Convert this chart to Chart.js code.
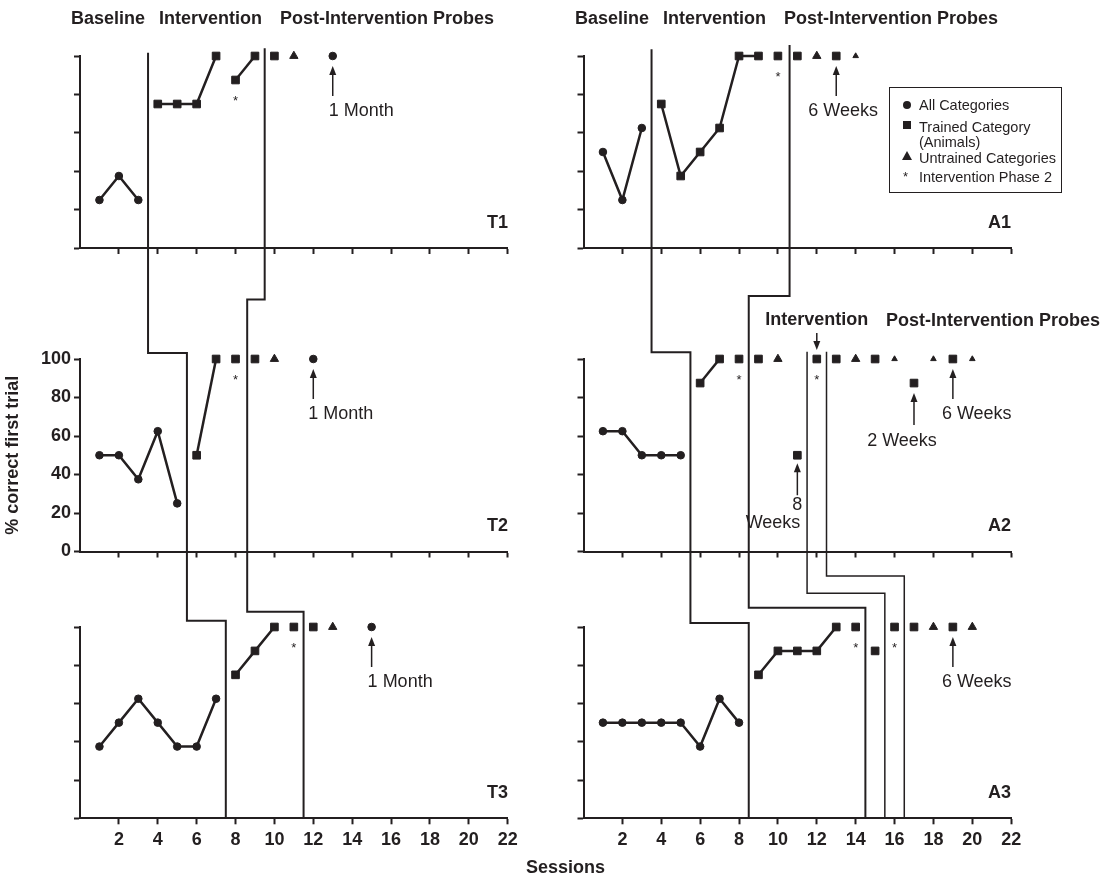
<!DOCTYPE html>
<html>
<head>
<meta charset="utf-8">
<title>Multiple baseline probes</title>
<script src="https://cdn.jsdelivr.net/npm/chart.js@4.4.1/dist/chart.umd.min.js"></script>
<style>
  html, body { margin: 0; padding: 0; background: #fff; }
  #fig { position: relative; width: 1116px; height: 878px; overflow: hidden; background: #fff;
         font-family: "Liberation Sans", Arial, sans-serif; color: #231f20; }
  #fig canvas { position: absolute; top: 0; }
  .t { position: absolute; white-space: nowrap; font-weight: bold; font-size: 18px; line-height: 18px; }
  .panel { position: absolute; width: 60px; text-align: right; font-weight: bold; font-size: 18px; line-height: 18px; }
  #legend { position: absolute; left: 889px; top: 87px; width: 173px; height: 106px; box-sizing: border-box;
            border: 1px solid #231f20; font-size: 14.5px; line-height: 15px; }
  #legend .txt { position: absolute; left: 29px; white-space: nowrap; }
  #legend .sym { position: absolute; background: #231f20; }
</style>
</head>
<body>
<div id="fig">
  <canvas id="t1" width="558" height="878"></canvas>
  <canvas id="t2" width="558" height="878"></canvas>
  <canvas id="t3" width="558" height="878"></canvas>
  <canvas id="a1" width="558" height="878"></canvas>
  <canvas id="a2" width="558" height="878"></canvas>
  <canvas id="a3" width="558" height="878"></canvas>

  <!-- phase headings -->
  <div class="t" style="left:71px;top:9px">Baseline</div>
  <div class="t" style="left:159px;top:9px">Intervention</div>
  <div class="t" style="left:280px;top:9px">Post-Intervention Probes</div>
  <div class="t" style="left:575px;top:9px">Baseline</div>
  <div class="t" style="left:663px;top:9px">Intervention</div>
  <div class="t" style="left:784px;top:9px">Post-Intervention Probes</div>
  <div class="t" style="left:886px;top:311px">Post-Intervention Probes</div>
  <div class="t" style="left:526px;top:858px">Sessions</div>

  <!-- participant labels -->
  <div class="panel" style="left:448px;top:213px">T1</div>
  <div class="panel" style="left:448px;top:516px">T2</div>
  <div class="panel" style="left:448px;top:783px">T3</div>
  <div class="panel" style="left:951px;top:213px">A1</div>
  <div class="panel" style="left:951px;top:516px">A2</div>
  <div class="panel" style="left:951px;top:783px">A3</div>

  <div id="legend">
    <span class="sym" style="left:13px;top:13px;width:8px;height:8px;border-radius:50%"></span>
    <div class="txt" style="top:10px">All Categories</div>
    <span class="sym" style="left:13px;top:33px;width:8px;height:8px"></span>
    <div class="txt" style="top:32px">Trained Category</div>
    <div class="txt" style="top:47px">(Animals)</div>
    <span class="sym" style="left:12px;top:63px;width:0;height:0;background:none;border-left:5px solid transparent;border-right:5px solid transparent;border-bottom:9px solid #231f20"></span>
    <div class="txt" style="top:63px">Untrained Categories</div>
    <span class="sym" style="left:13px;top:82px;background:none;font-size:13px;line-height:13px">*</span>
    <div class="txt" style="top:82px">Intervention Phase 2</div>
  </div>
</div>

<script>
const INK = '#231f20';
const FONT = '"Liberation Sans", Arial, sans-serif';

// axis ticks
const SESSION_TICKS = [2, 4, 6, 8, 10, 12, 14, 16, 18, 20, 22];
const PERCENT_TICKS = [0, 20, 40, 60, 80, 100];

// [session, % correct]; null breaks the connecting line
const T1_ALL = [[1, 25], [2, 37.5], [3, 25], null, [13, 100]];
const T1_TRAINED = [[4, 75], [5, 75], [6, 75], [7, 100], null, [8, 87.5], [9, 100], null, [10, 100]];
const T1_UNTRAINED = [[11, 100]];
const T1_PHASE2 = [8];
const T1_NOTES = [[13, '1 Month']];

const T2_ALL = [[1, 50], [2, 50], [3, 37.5], [4, 62.5], [5, 25], null, [12, 100]];
const T2_TRAINED = [[6, 50], [7, 100], null, [8, 100], null, [9, 100]];
const T2_UNTRAINED = [[10, 100]];
const T2_PHASE2 = [8];
const T2_NOTES = [[12, '1 Month']];

const T3_ALL = [[1, 37.5], [2, 50], [3, 62.5], [4, 50], [5, 37.5], [6, 37.5], [7, 62.5], null, [15, 100]];
const T3_TRAINED = [[8, 75], [9, 87.5], [10, 100], null, [11, 100], null, [12, 100]];
const T3_UNTRAINED = [[13, 100]];
const T3_PHASE2 = [11];
const T3_NOTES = [[15, '1 Month']];

const A1_ALL = [[1, 50], [2, 25], [3, 62.5]];
const A1_TRAINED = [[4, 75], [5, 37.5], [6, 50], [7, 62.5], [8, 100], [9, 100], null, [10, 100], null, [11, 100], null, [13, 100]];
const A1_UNTRAINED = [[12, 100], [14, 100]];
const A1_PHASE2 = [10];
const A1_NOTES = [[13, '6 Weeks']];

const A2_ALL = [[1, 62.5], [2, 62.5], [3, 50], [4, 50], [5, 50]];
const A2_TRAINED = [[6, 87.5], [7, 100], null, [8, 100], null, [9, 100], null, [11, 50], null, [12, 100], null,
                    [13, 100], null, [15, 100], null, [17, 87.5], null, [19, 100]];
const A2_UNTRAINED = [[10, 100], [14, 100], [16, 100], [18, 100], [20, 100]];
const A2_PHASE2 = [8, 12];
const A2_NOTES = [[12, 'Intervention'], [11, '8\nWeeks'], [17, '2 Weeks'], [19, '6 Weeks']];

const A3_ALL = [[1, 50], [2, 50], [3, 50], [4, 50], [5, 50], [6, 37.5], [7, 62.5], [8, 50]];
const A3_TRAINED = [[9, 75], [10, 87.5], [11, 87.5], [12, 87.5], [13, 100], null, [14, 100], null, [15, 87.5], null,
                    [16, 100], null, [17, 100], null, [19, 100]];
const A3_UNTRAINED = [[18, 100], [20, 100]];
const A3_PHASE2 = [14, 16];
const A3_NOTES = [[19, '6 Weeks']];

// phase change lines: session where each line crosses rows 1..3
const LEFT_PHASE_X = [[3.5, 5.5, 7.5], [9.5, 8.6, 11.5]];
const RIGHT_PHASE_X = [[3.5, 5.5, 8.5], [10.6, 8.5, 14.5], [null, 11.5, 15.5], [null, 12.5, 16.5]];

// ---- layout / style ----
const COLS = {
  left: { canvasX: 0, x0: 80, x1: 507.7 },
  right: { canvasX: 558, x0: 583.5, x1: 1011.2 }
};
const ROWS = [{ top: 56, bottom: 248 }, { top: 359, bottom: 551.5 }, { top: 627, bottom: 818.3 }];
const CANVAS_W = 558, CANVAS_H = 878, X_AXIS_H = 36;
// % level where a phase line starts, and where it jogs sideways above rows 2 and 3
const PHASE_TOP = { left: [101.7, 104], right: [103.5, 105.7, 103.8, 103.8] };
const PHASE_STEP = {
  left: [[103.1, 103.3], [130.9, 108]],
  right: [[103.5, 102.1], [132.7, 110.1], [null, 117.7], [null, 126.6]]
};
const PHASE_WIDTH = { left: [2, 2], right: [2, 2, 1.5, 1.5] };
const SMALL_TRIANGLES = { a1: [14], a2: [16, 18, 20] };

const BELOW = { tip: 10, tail: 40, labelY: 55, font: `18px ${FONT}` };
const NOTE_LAYOUT = {
  t1: [{ ...BELOW, dx: -4, align: 'left' }],
  t2: [{ ...BELOW, dx: -5, align: 'left' }],
  t3: [{ ...BELOW, dx: -4, align: 'left' }],
  a1: [{ ...BELOW, dx: -28, align: 'left' }],
  a2: [
    { tip: -9, tail: -26, labelY: -39, dx: 0, align: 'center', font: `bold 18px ${FONT}` },
    { tip: 8, tail: 40, font: `18px ${FONT}`, lines: [{ y: 50, dx: 0, align: 'center' }, { y: 68, dx: 3, align: 'right' }] },
    { ...BELOW, tail: 42, labelY: 58, dx: -12, align: 'center' },
    { ...BELOW, dx: -11, align: 'left' }
  ],
  a3: [{ ...BELOW, dx: -11, align: 'left' }]
};

function runs(list) {
  const out = [[]];
  list.forEach(p => {
    if (p === null) out.push([]);
    else out[out.length - 1].push({ x: p[0], y: p[1] });
  });
  return out.filter(r => r.length);
}

function phaseLines(side, row) {
  const xs = side === 'left' ? LEFT_PHASE_X : RIGHT_PHASE_X;
  const lines = [];
  xs.forEach((line, i) => {
    const own = line[row];
    if (own == null) return;
    const width = PHASE_WIDTH[side][i];
    const up = row > 0 ? line[row - 1] : null;
    if (up == null) {
      lines.push({ width, pts: [{ x: own, y: PHASE_TOP[side][i] }, { x: own, y: 0 }] });
      return;
    }
    const box = ROWS[row], prev = ROWS[row - 1];
    const reach = 100 + (box.top - prev.bottom) / (box.bottom - box.top) * 100;
    const step = PHASE_STEP[side][i][row - 1];
    lines.push({ width, pts: [{ x: up, y: reach }, { x: up, y: step }, { x: own, y: step }, { x: own, y: 0 }] });
  });
  return lines;
}

const notesPlugin = {
  id: 'notes',
  afterDatasetsDraw(chart, args, opts) {
    const { ctx } = chart;
    const xs = chart.scales.x, ys = chart.scales.y;
    const valueAt = s => {
      const hit = opts.points.find(p => p && p[0] === s);
      return hit ? hit[1] : 100;
    };
    ctx.save();
    ctx.fillStyle = INK;
    ctx.strokeStyle = INK;

    // asterisks mark intervention phase 2 sessions
    ctx.font = `13px ${FONT}`;
    ctx.textAlign = 'center';
    ctx.textBaseline = 'alphabetic';
    opts.stars.forEach(s => {
      const px = xs.getPixelForValue(s), py = ys.getPixelForValue(valueAt(s));
      ctx.fillText('*', px, py + 25);
    });

    // arrows with follow-up labels
    opts.notes.forEach(([s, text], i) => {
      const lay = opts.layout[i];
      const px = xs.getPixelForValue(s), py = ys.getPixelForValue(valueAt(s));
      const dir = lay.tip < 0 ? -1 : 1;
      const tip = py + lay.tip, tail = py + lay.tail;
      ctx.lineWidth = 1.5;
      ctx.beginPath();
      ctx.moveTo(px, tail);
      ctx.lineTo(px, tip + dir * 6);
      ctx.stroke();
      ctx.beginPath();
      ctx.moveTo(px, tip);
      ctx.lineTo(px - 3.5, tip + dir * 9);
      ctx.lineTo(px + 3.5, tip + dir * 9);
      ctx.closePath();
      ctx.fill();

      ctx.font = lay.font;
      ctx.textBaseline = 'middle';
      const parts = text.split('\n');
      const lines = lay.lines || [{ y: lay.labelY, dx: lay.dx, align: lay.align }];
      parts.forEach((part, j) => {
        const l = lines[j];
        ctx.textAlign = l.align;
        ctx.fillText(part, px + l.dx, py + l.y);
      });
    });
    ctx.restore();
  }
};

function markers(data, style, radius, joined) {
  return {
    data,
    showLine: joined,
    clip: false,
    borderColor: INK,
    backgroundColor: INK,
    borderWidth: 2.5,
    pointStyle: style,
    pointRadius: radius,
    pointHoverRadius: radius,
    pointBorderWidth: 1,
    pointBackgroundColor: INK,
    pointBorderColor: INK
  };
}

function buildPanel(id, side, row, p) {
  const col = COLS[side], box = ROWS[row];
  const canvas = document.getElementById(id);
  canvas.style.left = col.canvasX + 'px';

  const datasets = [];
  runs(p.all).forEach(r => datasets.push(markers(r, 'circle', 3.8, true)));
  runs(p.trained).forEach(r => datasets.push(markers(r, 'rect', 5.4, true)));
  const small = SMALL_TRIANGLES[id] || [];
  datasets.push(markers(p.untrained.map(([x, y]) => ({ x, y })), 'triangle',
    ctx => (ctx.raw && small.includes(ctx.raw.x) ? 3.2 : 4.8), false));
  phaseLines(side, row).forEach(line => datasets.push({
    data: line.pts, showLine: true, clip: false, borderColor: INK, borderWidth: line.width,
    pointRadius: 0, pointHoverRadius: 0, tension: 0
  }));

  const showY = side === 'left' && row === 1;
  const tickFont = { family: FONT, size: 18, weight: 'bold' };
  const grid = { drawOnChartArea: false, tickLength: 6, tickWidth: 2, tickColor: INK };

  new Chart(canvas, {
    type: 'scatter',
    data: { datasets },
    options: {
      responsive: false,
      animation: false,
      events: [],
      layout: {
        padding: {
          left: 0,
          top: box.top,
          right: col.canvasX + CANVAS_W - col.x1,
          bottom: CANVAS_H - box.bottom - X_AXIS_H
        }
      },
      plugins: {
        legend: { display: false },
        tooltip: { enabled: false },
        notes: { points: p.all.concat(p.trained), stars: p.stars, notes: p.notes, layout: NOTE_LAYOUT[id] }
      },
      scales: {
        x: {
          type: 'linear', min: 0, max: 22,
          afterBuildTicks: s => { s.ticks = SESSION_TICKS.map(v => ({ value: v })); },
          afterFit: s => { s.height = X_AXIS_H; s.paddingLeft = 0; s.paddingRight = 0; },
          grid,
          border: { color: INK, width: 2 },
          ticks: { color: row === 2 ? INK : 'transparent', font: tickFont, padding: 5, maxRotation: 0, autoSkip: false }
        },
        y: {
          type: 'linear', min: 0, max: 100,
          afterBuildTicks: s => { s.ticks = PERCENT_TICKS.map(v => ({ value: v })); },
          afterFit: s => { s.width = col.x0 - col.canvasX; s.paddingTop = 0; s.paddingBottom = 0; },
          grid,
          border: { color: INK, width: 2 },
          ticks: { color: showY ? INK : 'transparent', font: tickFont, padding: 3 },
          title: { display: showY, text: '% correct first trial', color: INK,
                   font: { family: FONT, size: 18, weight: 'bold' }, padding: { top: 2, bottom: 2 } }
        }
      }
    },
    plugins: [notesPlugin]
  });
}

buildPanel('t1', 'left', 0, { all: T1_ALL, trained: T1_TRAINED, untrained: T1_UNTRAINED, stars: T1_PHASE2, notes: T1_NOTES });
buildPanel('t2', 'left', 1, { all: T2_ALL, trained: T2_TRAINED, untrained: T2_UNTRAINED, stars: T2_PHASE2, notes: T2_NOTES });
buildPanel('t3', 'left', 2, { all: T3_ALL, trained: T3_TRAINED, untrained: T3_UNTRAINED, stars: T3_PHASE2, notes: T3_NOTES });
buildPanel('a1', 'right', 0, { all: A1_ALL, trained: A1_TRAINED, untrained: A1_UNTRAINED, stars: A1_PHASE2, notes: A1_NOTES });
buildPanel('a2', 'right', 1, { all: A2_ALL, trained: A2_TRAINED, untrained: A2_UNTRAINED, stars: A2_PHASE2, notes: A2_NOTES });
buildPanel('a3', 'right', 2, { all: A3_ALL, trained: A3_TRAINED, untrained: A3_UNTRAINED, stars: A3_PHASE2, notes: A3_NOTES });
</script>
</body>
</html>
